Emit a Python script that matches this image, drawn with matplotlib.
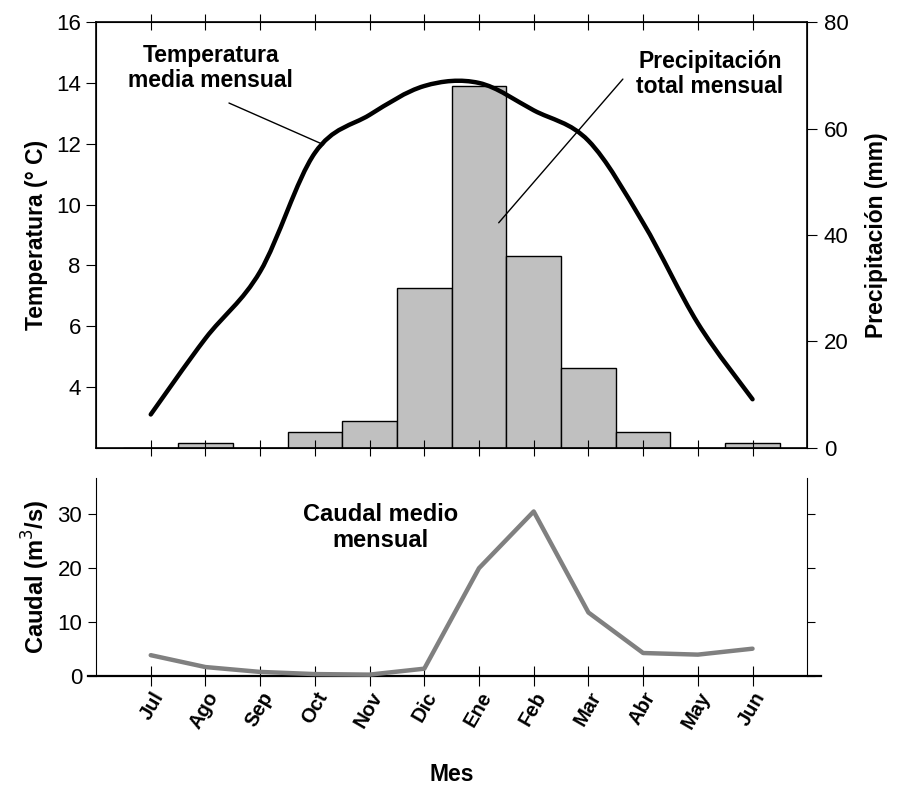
import matplotlib
matplotlib.use("Agg")
import matplotlib.pyplot as plt
from matplotlib.path import Path
from matplotlib.patches import PathPatch
import numpy as np

plt.rcParams['font.family'] = ['Liberation Sans', 'DejaVu Sans']

# data
months = ["Jul", "Ago", "Sep", "Oct", "Nov", "Dic", "Ene", "Feb", "Mar", "Abr", "May", "Jun"]
temperatura = [3.1, 5.6, 7.8, 11.7, 12.95, 13.9, 14.0, 13.1, 12.1, 9.4, 6.1, 3.6]
precipitacion = [0, 1, 0, 3, 5, 30, 68, 36, 15, 3, 0, 1]
caudal = [3.9, 1.7, 0.8, 0.4, 0.3, 1.4, 20.0, 30.5, 11.8, 4.3, 4.0, 5.1]

x = np.arange(len(months))


def smooth_path(xs, ys):
    # catmull-rom through the points, drawn as matplotlib bezier segments
    pts = np.column_stack([xs, ys]).astype(float)
    ext = np.vstack([pts[0], pts, pts[-1]])
    verts = [pts[0]]
    codes = [Path.MOVETO]
    for i in range(1, len(ext) - 2):
        p0, p1, p2, p3 = ext[i - 1], ext[i], ext[i + 1], ext[i + 2]
        verts += [p1 + (p2 - p0) / 6, p2 - (p3 - p1) / 6, p2]
        codes += [Path.CURVE4] * 3
    return Path(verts, codes)


fig = plt.figure(figsize=(9.06, 7.90), dpi=100)
ax = fig.add_axes([0.106, 0.433, 0.785, 0.539])
ax2 = ax.twinx()
ax.set_zorder(ax2.get_zorder() + 1)
ax.patch.set_visible(False)

# precipitation bars (right axis)
ax2.bar(x, precipitacion, width=1.0, color="#c0c0c0", edgecolor="black", linewidth=1.0)
ax2.set_ylim(0, 80)
ax2.set_yticks([0, 20, 40, 60, 80])
ax2.set_ylabel("Precipitación (mm)", fontsize=16.5, fontweight="bold", labelpad=12)
ax2.tick_params(axis="y", direction="out", length=7, labelsize=16, pad=5)

# temperature curve (left axis)
ax.add_patch(PathPatch(smooth_path(x, temperatura), fill=False, edgecolor="black",
                       linewidth=3.2, capstyle="round", joinstyle="round"))
ax.set_xlim(-1, 12)
ax.set_ylim(2, 16)
ax.set_yticks([4, 6, 8, 10, 12, 14, 16])
ax.set_ylabel("Temperatura (° C)", fontsize=16.5, fontweight="bold", labelpad=6)
ax.set_xticks(x)
ax.set_xticklabels([])
ax.tick_params(axis="y", direction="out", length=7, labelsize=16, pad=4)
ax.tick_params(axis="x", direction="inout", length=12, top=True)
ax2.tick_params(axis="x", top=False)
for sp in ax.spines.values():
    sp.set_linewidth(1.2)

ax.text(1.1, 14.5, "Temperatura\nmedia mensual", fontsize=16.5, fontweight="bold",
        ha="center", va="center", linespacing=1.1)
ax.annotate("", xy=(3.16, 11.97), xytext=(1.43, 13.34),
            arrowprops=dict(arrowstyle="-", color="black", lw=1.0, shrinkA=0, shrinkB=0))
ax2.text(10.22, 70.2, "Precipitación\ntotal mensual", fontsize=16.5, fontweight="bold",
         ha="center", va="center", linespacing=1.1)
ax2.annotate("", xy=(6.36, 42.3), xytext=(8.63, 69.3),
             arrowprops=dict(arrowstyle="-", color="black", lw=1.0, shrinkA=0, shrinkB=0))

# caudal panel
bx = fig.add_axes([0.106, 0.144, 0.785, 0.251])
bx.plot(x, caudal, color="#808080", linewidth=3.2, clip_on=False, zorder=5,
        solid_capstyle="round")
bx.set_xlim(-1, 12)
bx.set_ylim(0, 36.7)
bx.set_yticks([0, 10, 20, 30])
bx.set_xticks(x)
bx.set_xticklabels(months, rotation=60, ha="right", rotation_mode="anchor",
                   fontsize=14.5, fontweight="bold")
bx.tick_params(axis="x", direction="inout", length=14, pad=2)
bx.tick_params(axis="y", direction="out", length=6, labelsize=16, pad=4, right=True)
bx.spines["top"].set_visible(False)
bx.spines["bottom"].set_bounds(-1.15, 12.25)
bx.spines["bottom"].set_linewidth(1.6)
bx.set_ylabel("Caudal (m$^3$/s)", fontsize=17, fontweight="bold", labelpad=4)
bx.set_xlabel("Mes", fontsize=16.5, fontweight="bold", labelpad=22)
bx.text(4.2, 27.5, "Caudal medio\nmensual", fontsize=17, fontweight="bold",
        ha="center", va="center", linespacing=1.2)

fig.savefig("out.png", dpi=100)
